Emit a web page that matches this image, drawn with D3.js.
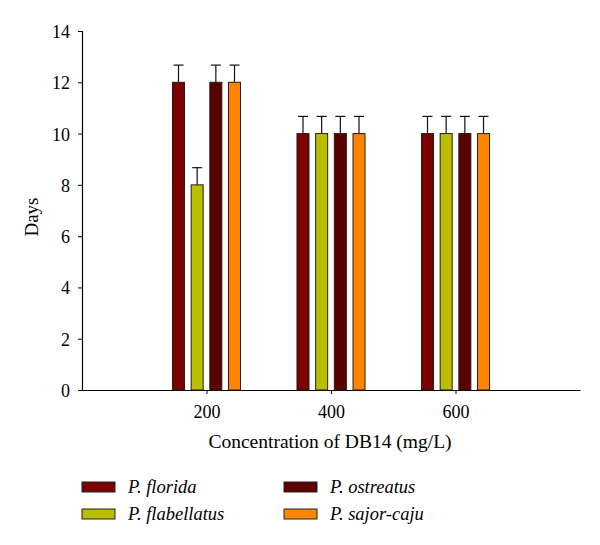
<!DOCTYPE html>
<html>
<head>
<meta charset="utf-8">
<script src="https://cdn.jsdelivr.net/npm/d3@7"></script>
<style>
  body { margin: 0; background: #fff; }
</style>
</head>
<body>
<svg id="chart" width="600" height="545"></svg>
<script>
// data
var concentrations = [200, 400, 600];
var species = ["P. florida", "P. flabellatus", "P. ostreatus", "P. sajor-caju"];
var colors = ["#7c0000", "#b9bf00", "#5a0000", "#ff8400"];
var floridaDays = [12, 10, 10];
var flabellatusDays = [8, 10, 10];
var ostreatusDays = [12, 10, 10];
var sajorCajuDays = [12, 10, 10];
var errors = [0.67, 0.67, 0.67];
var yTicks = [0, 2, 4, 6, 8, 10, 12, 14];

var seriesValues = [floridaDays, flabellatusDays, ostreatusDays, sajorCajuDays];
var serif = '"Liberation Serif", "DejaVu Serif", "Times New Roman", serif';

var svg = d3.select('#chart').attr('font-family', serif);

var x = d3.scaleLinear().domain([0, 800]).range([82, 580]);
var y = d3.scaleLinear().domain([0, 14]).range([390, 31]);

// offset of each series inside a group, in x units
var offset = d3.scalePoint().domain(d3.range(species.length)).range([-45, 45]);
var barW = 12;

// y axis
var yAxis = svg.append('g')
  .attr('transform', 'translate(82,0)')
  .call(d3.axisLeft(y).tickValues(yTicks).tickSize(4).tickPadding(8).tickFormat(d3.format('d')));
yAxis.attr('font-family', serif);
yAxis.select('.domain').attr('stroke', '#000').attr('stroke-width', 1.2);
yAxis.selectAll('text').attr('font-size', 18).attr('fill', '#000').attr('dy', '0.36em');

// x axis
var xAxis = svg.append('g')
  .attr('transform', 'translate(0,390)')
  .call(d3.axisBottom(x).tickValues(concentrations).tickSize(4).tickPadding(11).tickSizeOuter(0));
xAxis.attr('font-family', serif);
xAxis.select('.domain').attr('stroke', '#000').attr('stroke-width', 1.2);
xAxis.selectAll('text').attr('font-size', 18).attr('fill', '#000');

// bars
var rows = [];
seriesValues.forEach(function(vals, s) {
  vals.forEach(function(v, i) {
    rows.push({ s: s, c: concentrations[i], v: v, e: errors[i] });
  });
});

var bars = svg.append('g');

bars.selectAll('line.err')
  .data(rows).enter().append('line')
  .attr('class', 'err')
  .attr('x1', function(d) { return x(d.c + offset(d.s)); })
  .attr('x2', function(d) { return x(d.c + offset(d.s)); })
  .attr('y1', function(d) { return y(d.v); })
  .attr('y2', function(d) { return y(d.v + d.e); })
  .attr('stroke', '#111').attr('stroke-width', 1.2);

bars.selectAll('line.cap')
  .data(rows).enter().append('line')
  .attr('class', 'cap')
  .attr('x1', function(d) { return x(d.c + offset(d.s)) - 5; })
  .attr('x2', function(d) { return x(d.c + offset(d.s)) + 5; })
  .attr('y1', function(d) { return y(d.v + d.e); })
  .attr('y2', function(d) { return y(d.v + d.e); })
  .attr('stroke', '#111').attr('stroke-width', 1.2);

bars.selectAll('rect')
  .data(rows).enter().append('rect')
  .attr('x', function(d) { return x(d.c + offset(d.s)) - barW / 2; })
  .attr('y', function(d) { return y(d.v); })
  .attr('width', barW)
  .attr('height', function(d) { return y(0) - y(d.v); })
  .attr('fill', function(d) { return colors[d.s]; })
  .attr('stroke', '#2a1a10').attr('stroke-width', 1);

// axis titles
svg.append('text')
  .attr('x', 330).attr('y', 448)
  .attr('text-anchor', 'middle')
  .attr('font-size', 19.5)
  .text('Concentration of DB14 (mg/L)');

svg.append('text')
  .attr('transform', 'translate(38,217) rotate(-90)')
  .attr('text-anchor', 'middle')
  .attr('font-size', 19)
  .text('Days');

// legend
var legend = svg.append('g');
var legendPos = [[82, 487], [82, 514], [284, 487], [284, 514]];
species.forEach(function(name, i) {
  var g = legend.append('g').attr('transform', 'translate(' + legendPos[i][0] + ',' + legendPos[i][1] + ')');
  g.append('rect')
    .attr('x', 0).attr('y', -5).attr('width', 33).attr('height', 10)
    .attr('fill', colors[i]).attr('stroke', '#222').attr('stroke-width', 1);
  g.append('text')
    .attr('x', 46).attr('y', 6)
    .attr('font-size', 18.5).attr('font-style', 'italic')
    .text(name);
});
</script>
</body>
</html>
